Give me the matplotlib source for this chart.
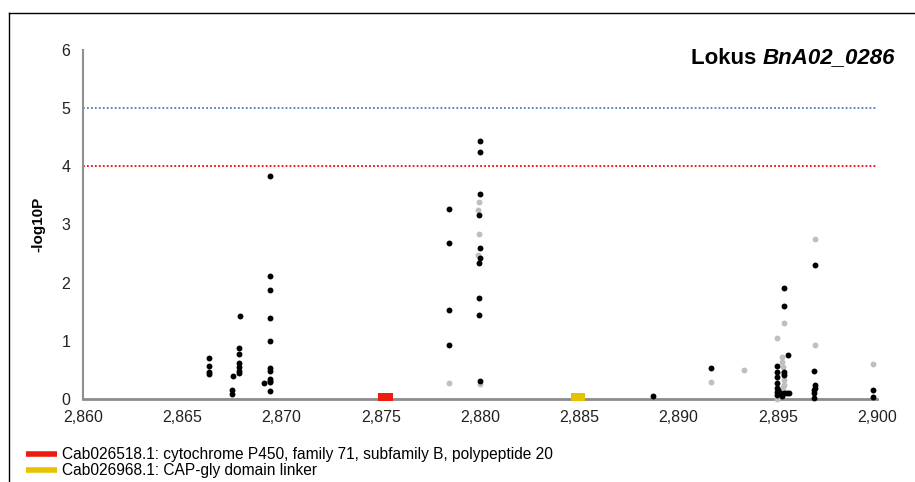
import matplotlib
matplotlib.use("Agg")
import matplotlib.pyplot as plt
from matplotlib.lines import Line2D
from matplotlib.ticker import FuncFormatter

plt.rcParams['font.family'] = ['Liberation Sans', 'DejaVu Sans']

# SNP positions (kb) and -log10P values
black_pos = [2866.35, 2866.35, 2866.35, 2866.35,
             2867.5, 2867.5, 2867.55,
             2867.9, 2867.86, 2867.86, 2867.86, 2867.86, 2867.86, 2867.86,
             2869.42, 2869.42, 2869.42, 2869.42, 2869.42, 2869.42, 2869.42,
             2869.42, 2869.42, 2869.42, 2869.42, 2869.12,
             2878.44, 2878.44, 2878.44, 2878.44,
             2880.0, 2880.0, 2880.0, 2879.95, 2880.0, 2880.0, 2879.95, 2879.95,
             2879.95, 2880.0,
             2888.72, 2891.64,
             2895.32, 2895.32, 2895.32, 2895.32, 2895.52,
             2894.96, 2894.96, 2894.96, 2894.96, 2894.96, 2894.96, 2894.96,
             2895.1, 2895.3, 2895.45, 2895.55, 2895.2, 2895.0,
             2896.88, 2896.85, 2896.88, 2896.88, 2896.85, 2896.85, 2896.85,
             2899.8, 2899.8]
black_val = [0.71, 0.57, 0.47, 0.43,
             0.15, 0.09, 0.40,
             1.42, 0.88, 0.78, 0.62, 0.55, 0.48, 0.45,
             3.84, 2.11, 1.88, 1.40, 0.99, 0.54, 0.48,
             0.34, 0.31, 0.30, 0.14, 0.28,
             3.27, 2.69, 1.53, 0.93,
             4.44, 4.24, 3.53, 3.17, 2.60, 2.43, 2.34, 1.74,
             1.45, 0.31,
             0.06, 0.53,
             1.91, 1.60, 0.47, 0.41, 0.76,
             0.57, 0.47, 0.38, 0.28, 0.19, 0.07, 0.12,
             0.10, 0.10, 0.10, 0.10, 0.05, 0.15,
             2.31, 0.48, 0.24, 0.19, 0.15, 0.10, 0.01,
             0.15, 0.04]

gray_pos = [2878.44,
            2879.95, 2879.9, 2879.95, 2879.9, 2880.0,
            2891.64, 2893.3,
            2895.32, 2895.32, 2895.32, 2894.96, 2894.96,
            2895.2, 2895.2, 2895.25, 2895.25, 2895.25, 2895.25,
            2896.88, 2896.88, 2899.8]
gray_val = [0.28,
            3.39, 3.25, 2.84, 2.48, 0.26,
            0.29, 0.50,
            1.31, 0.33, 0.24, 1.05, 0.0,
            0.72, 0.64, 0.55, 0.45, 0.20, 0.15,
            2.75, 0.93, 0.60]

# genes
gene_labels = ['Cab026518.1: cytochrome P450, family 71, subfamily B, polypeptide 20',
               'Cab026968.1: CAP-gly domain linker']
gene_start = [2874.85, 2884.6]
gene_end = [2875.6, 2885.3]
gene_colors = ['#ee1c0e', '#e6c300']

thresholds = [5, 4]
threshold_colors = ['#4a7cc8', '#ff0000']

x_ticks = [2860, 2865, 2870, 2875, 2880, 2885, 2890, 2895, 2900]
y_ticks = [0, 1, 2, 3, 4, 5, 6]

fig = plt.figure(figsize=(9.15, 4.82), dpi=100)
ax = fig.add_axes([83/915, 1 - 399/482, 794/915, 349/482])

for t, c in zip(thresholds, threshold_colors):
    ax.plot([x_ticks[0], x_ticks[-1]], [t, t], color=c, lw=1.3,
            linestyle=(0, (1, 1.2)), zorder=1)

for s, e, c in zip(gene_start, gene_end, gene_colors):
    ax.broken_barh([(s, e - s)], (-0.03, 0.135), facecolors=c, zorder=3, clip_on=False)

ax.scatter(gray_pos, gray_val, s=18, color='#bfbfbf', zorder=4, clip_on=False, linewidths=0)
ax.scatter(black_pos, black_val, s=18, color='black', zorder=5, clip_on=False, linewidths=0)

ax.set_xlim(2860, 2900)
ax.set_ylim(0, 6)
ax.set_xticks(x_ticks)
ax.set_yticks(y_ticks)
ax.xaxis.set_major_formatter(FuncFormatter(lambda v, p: f"{int(v):,}"))
ax.tick_params(axis='both', length=0, labelsize=11.5, colors='#222222')
ax.tick_params(axis='y', pad=9)
ax.tick_params(axis='x', pad=8)

for sp in ['top', 'right']:
    ax.spines[sp].set_visible(False)
ax.spines['left'].set_color('#909090')
ax.spines['left'].set_linewidth(1.5)
ax.spines['bottom'].set_color('#8c8c8c')
ax.spines['bottom'].set_linewidth(2)

ax.set_ylabel('-log10P', fontsize=11, fontweight='bold')
ax.yaxis.set_label_coords(-0.048, 0.5)

t2 = ax.text(1.0227, 0.977, 'BnA02_0286', transform=ax.transAxes, ha='right', va='center',
             fontsize=16, fontweight='bold', fontstyle='italic')
ax.annotate('Lokus ', xy=(0, 0), xycoords=t2, ha='right', va='bottom',
            fontsize=16, fontweight='bold')

handles = [Line2D([], [], color=c, lw=4, solid_capstyle='butt') for c in gene_colors]
fig.legend(handles, gene_labels, loc='upper left', bbox_to_anchor=(26/915, 1 - 447/482),
           frameon=False, fontsize=11.2, handlelength=2.0, handletextpad=0.3,
           labelspacing=0.08, borderpad=0, borderaxespad=0)

fig.add_artist(Line2D([9/915, 9/915], [0, 1 - 13/482], transform=fig.transFigure,
                      color='black', lw=1))
fig.add_artist(Line2D([9/915, 1], [1 - 13/482, 1 - 13/482], transform=fig.transFigure,
                      color='black', lw=1))

fig.savefig('out.png', dpi=100)
